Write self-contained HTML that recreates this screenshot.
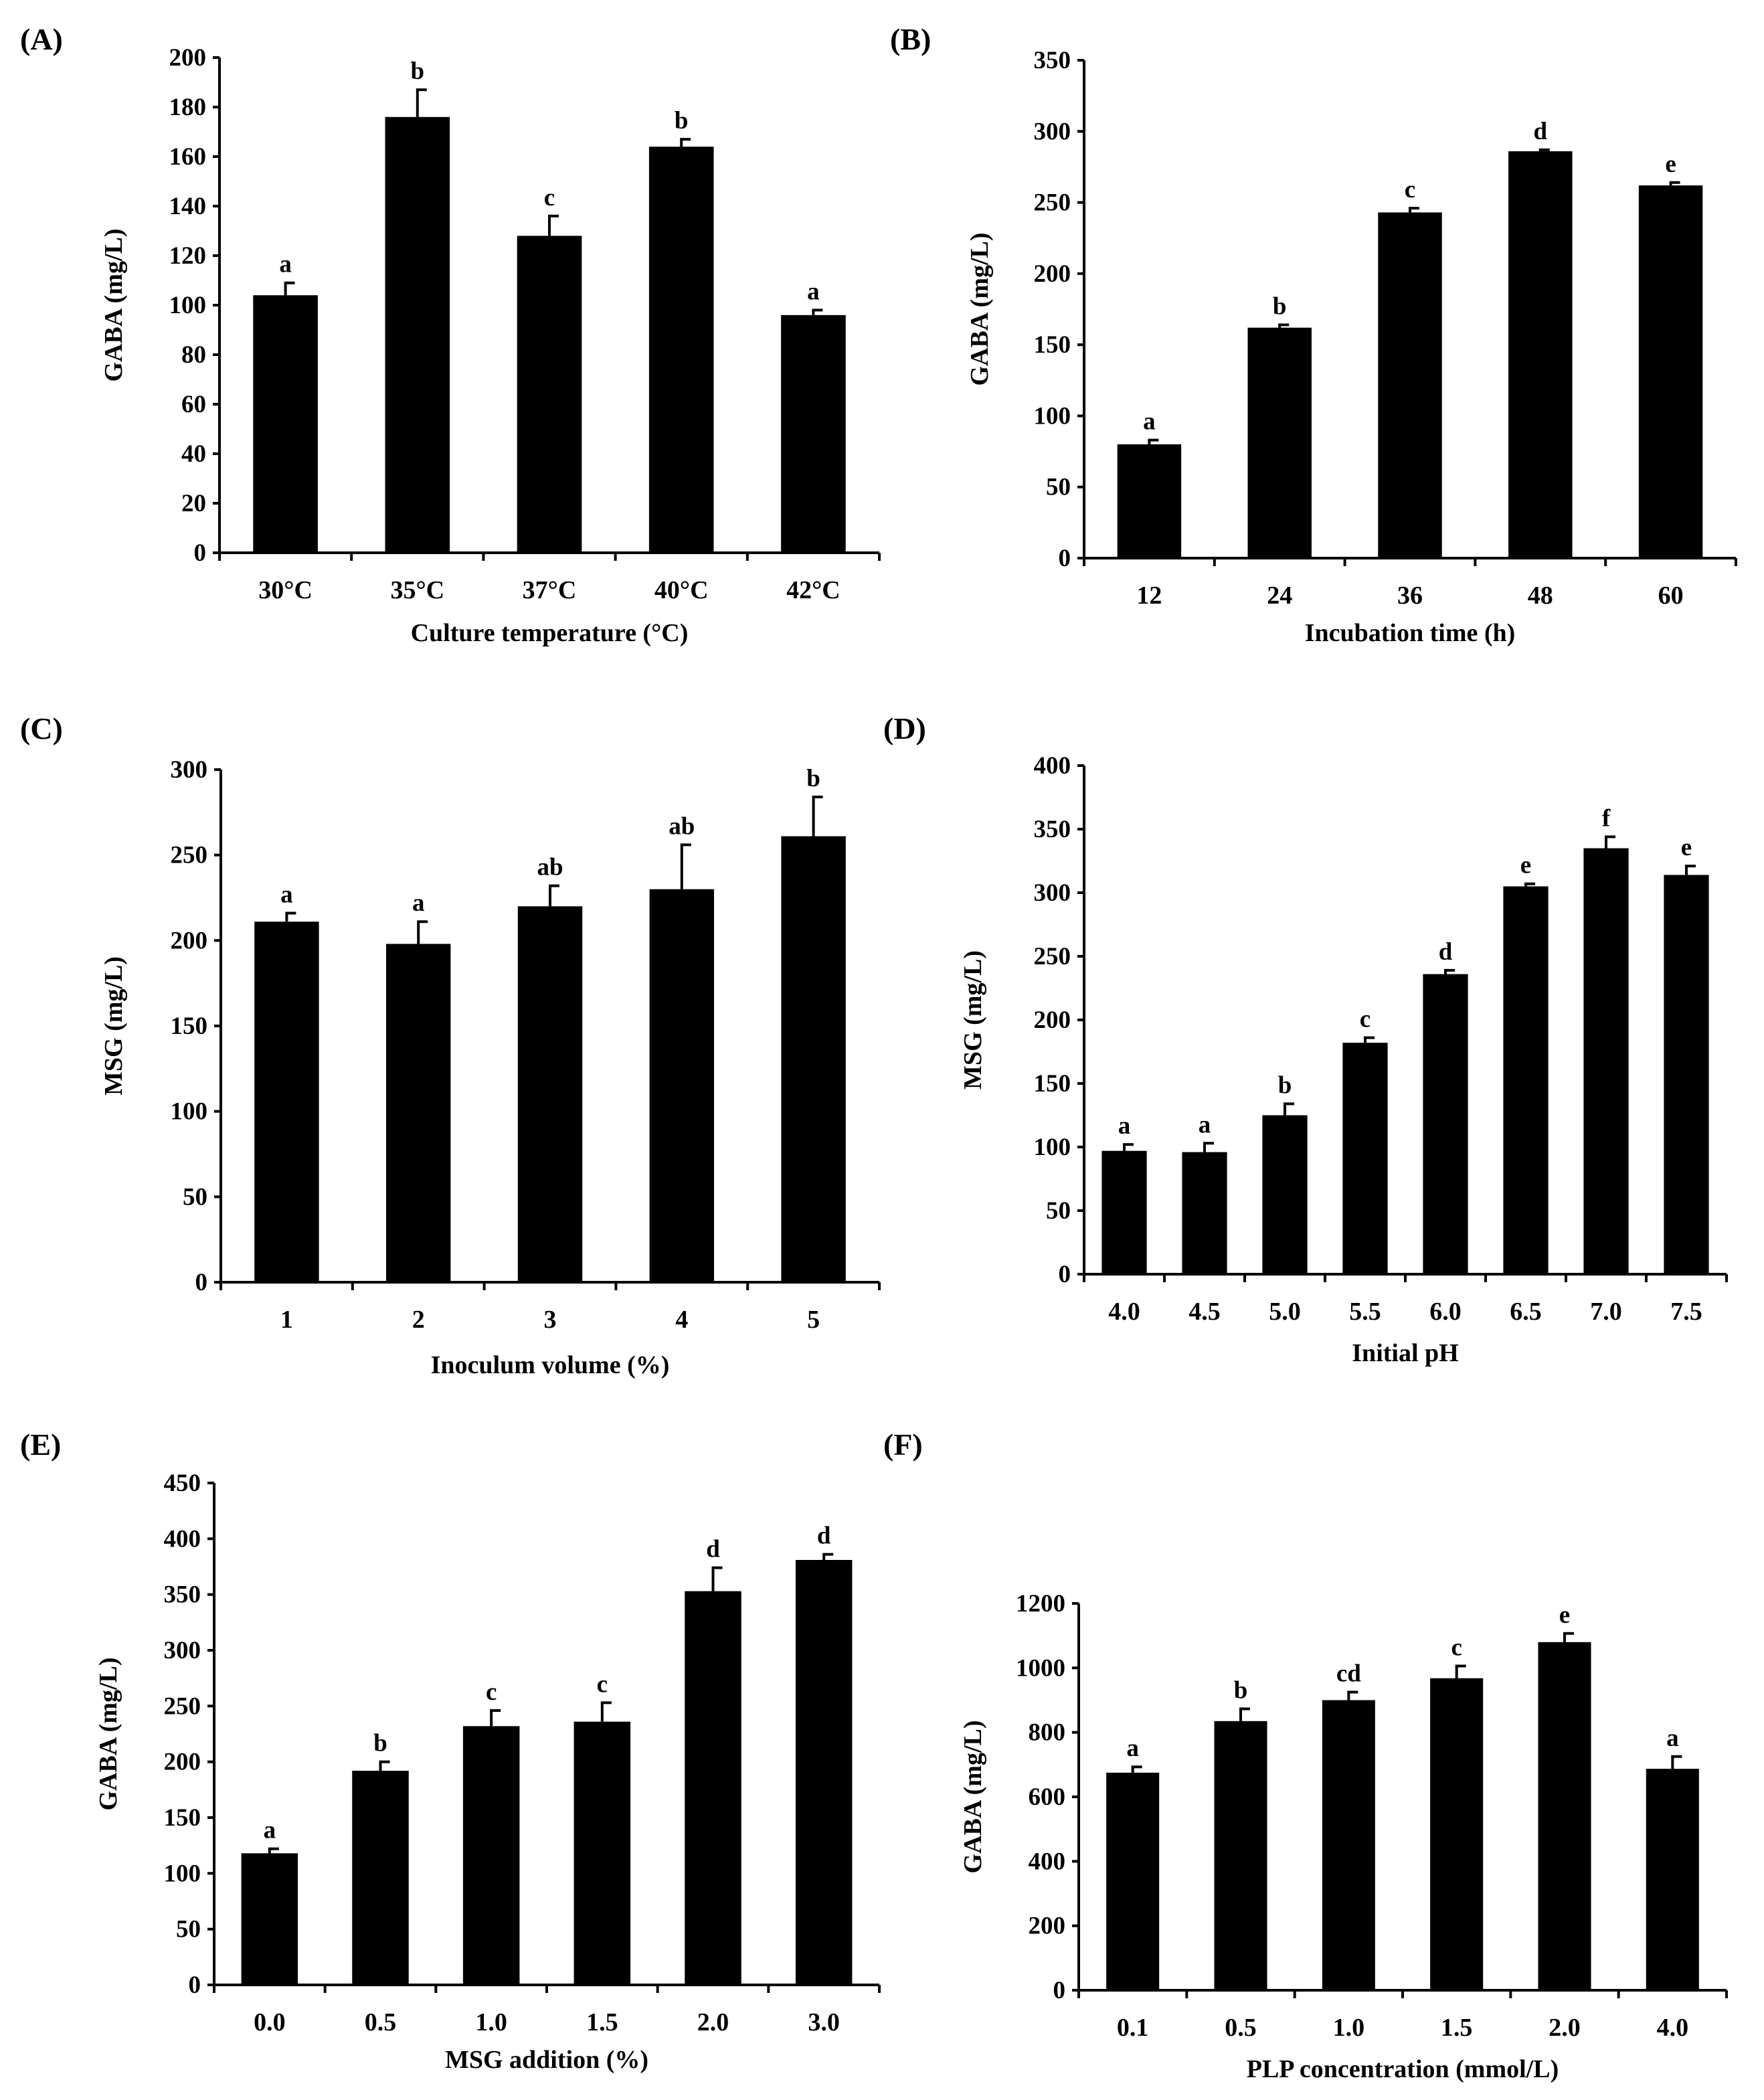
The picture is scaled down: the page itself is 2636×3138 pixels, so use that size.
<!DOCTYPE html>
<html><head><meta charset="utf-8"><style>
html,body{margin:0;padding:0;background:#fff;}
svg{display:block;}
text{font-family:"Liberation Serif",serif;font-weight:bold;fill:#000;}
</style></head><body>
<svg id="chart" width="2636" height="3138" viewBox="0 0 1318 1569" xmlns="http://www.w3.org/2000/svg"></svg>
<script>
// Panel A
const catsA = ["30°C","35°C","37°C","40°C","42°C"];
const valsA = [104,176,128,164,96];
const errsA = [5,11,8,3,2];
const lettersA = ["a","b","c","b","a"];
const ticksA = [0,20,40,60,80,100,120,140,160,180,200];
// Panel B
const catsB = ["12","24","36","48","60"];
const valsB = [80,162,243,286,262];
const errsB = [3,2,3,1,2];
const lettersB = ["a","b","c","d","e"];
const ticksB = [0,50,100,150,200,250,300,350];
// Panel C
const catsC = ["1","2","3","4","5"];
const valsC = [211,198,220,230,261];
const errsC = [5,13,12,26,23];
const lettersC = ["a","a","ab","ab","b"];
const ticksC = [0,50,100,150,200,250,300];
// Panel D
const catsD = ["4.0","4.5","5.0","5.5","6.0","6.5","7.0","7.5"];
const valsD = [97,96,125,182,236,305,335,314];
const errsD = [5,7,9,4,3,2,9,7];
const lettersD = ["a","a","b","c","d","e","f","e"];
const ticksD = [0,50,100,150,200,250,300,350,400];
// Panel E
const catsE = ["0.0","0.5","1.0","1.5","2.0","3.0"];
const valsE = [118,192,232,236,353,381];
const errsE = [4,8,14,17,21,5];
const lettersE = ["a","b","c","c","d","d"];
const ticksE = [0,50,100,150,200,250,300,350,400,450];
// Panel F
const catsF = ["0.1","0.5","1.0","1.5","2.0","4.0"];
const valsF = [675,835,900,968,1080,687];
const errsF = [18,38,25,38,27,38];
const lettersF = ["a","b","cd","c","e","a"];
const ticksF = [0,200,400,600,800,1000,1200];

const NS="http://www.w3.org/2000/svg";
const svg=document.getElementById('chart');
function mk(tag,attrs,parent){const e=document.createElementNS(NS,tag);for(const k in attrs)e.setAttribute(k,attrs[k]);(parent||svg).appendChild(e);return e;}

function panel(id,label,lx,ly,ax,ay0,ayTop,axEnd,cats,vals,errs,letters,ticks,ytitle,xtitle,ytx,xty,barFrac){
  const g=mk('g',{});
  
  
  const ymax=ticks[ticks.length-1];
  const y=v=>ay0-(v/ymax)*(ay0-ayTop);
  const band=(axEnd-ax)/cats.length;
  const x=i=>ax+band*(i+0.5);
  const pl=mk('text',{x:lx,y:ly,'font-size':23},g);pl.textContent=label;
  
  
  const yaxis=mk('line',{x1:ax,y1:ayTop,x2:ax,y2:ay0,stroke:'#000','stroke-width':2},g);
  
  
  const xaxis=mk('line',{x1:ax-5,y1:ay0,x2:axEnd,y2:ay0,stroke:'#000','stroke-width':2},g);
  
  
  ticks.forEach(t=>{
    mk('line',{x1:ax-5,y1:y(t),x2:ax,y2:y(t),stroke:'#000','stroke-width':2},g);
    const tl=mk('text',{x:ax-10,y:y(t)+6,'font-size':18.5,'text-anchor':'end'},g);tl.textContent=t;
    
    
  });
  for(let i=0;i<=cats.length;i++){mk('line',{x1:ax+band*i,y1:ay0,x2:ax+band*i,y2:ay0+6,stroke:'#000','stroke-width':2},g);}
  const bw=band*barFrac;
  cats.forEach((c,i)=>{
    const cx=x(i);
    const top=y(vals[i]), et=y(vals[i]+errs[i]);
    mk('line',{x1:cx,y1:top,x2:cx,y2:et,stroke:'#000','stroke-width':2},g);
    mk('line',{x1:cx-1,y1:et,x2:cx+7,y2:et,stroke:'#000','stroke-width':2},g);
    const r=mk('rect',{x:cx-bw/2,y:top,width:bw,height:ay0-top,fill:'#000'},g);
    
    
    const lt=mk('text',{x:cx,y:et-8,'font-size':18.5,'text-anchor':'middle'},g);lt.textContent=letters[i];
    
    
    const xl=mk('text',{x:cx,y:ay0+34,'font-size':19,'text-anchor':'middle'},g);xl.textContent=c;
    
    
  });
  const xt=mk('text',{x:(ax+axEnd)/2,y:xty,'font-size':19,'text-anchor':'middle'},g);xt.textContent=xtitle;
  
  
  const yc=(ay0+ayTop)/2;
  const yt=mk('text',{x:ytx,y:yc,'font-size':19,'text-anchor':'middle',transform:`rotate(-90 ${ytx} ${yc})`},g);yt.textContent=ytitle;
  
  
}
panel('a','(A)',15,37,164,413,43,657,catsA,valsA,errsA,lettersA,ticksA,'GABA (mg/L)','Culture temperature (°C)',91,479,0.49);
panel('b','(B)',665,37,810,417,45,1297,catsB,valsB,errsB,lettersB,ticksB,'GABA (mg/L)','Incubation time (h)',738,479,0.49);
panel('c','(C)',15,552,165,958,575,657,catsC,valsC,errsC,lettersC,ticksC,'MSG (mg/L)','Inoculum volume (%)',91,1026,0.49);
panel('d','(D)',660,552,810,952,572,1290,catsD,valsD,errsD,lettersD,ticksD,'MSG (mg/L)','Initial pH',733,1017,0.56);
panel('e','(E)',15,1087,160,1483,1108,657,catsE,valsE,errsE,lettersE,ticksE,'GABA (mg/L)','MSG addition (%)',87,1545,0.51);
panel('f','(F)',660,1087,806,1487,1198,1290,catsF,valsF,errsF,lettersF,ticksF,'GABA (mg/L)','PLP concentration (mmol/L)',733,1552,0.49);
</script>
</body></html>
